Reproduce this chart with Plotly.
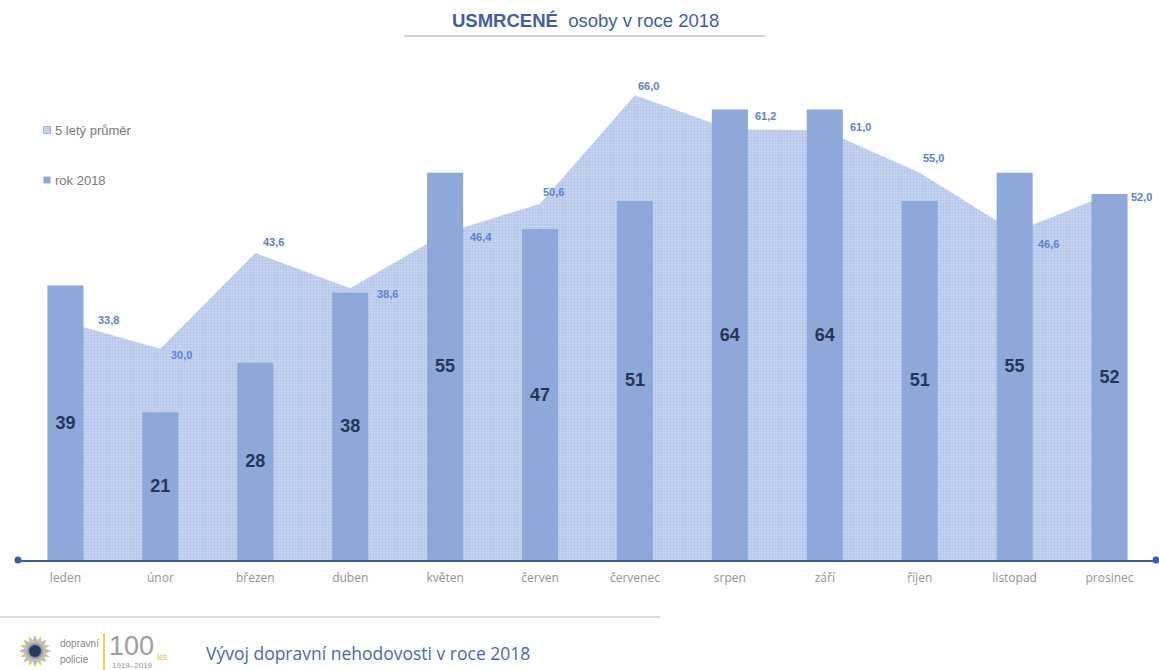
import math
import plotly.graph_objects as go

# ---- data -------------------------------------------------------------
months = ["leden", "únor", "březen", "duben", "květen", "červen",
          "červenec", "srpen", "září", "říjen", "listopad", "prosinec"]
deaths_2018 = [39, 21, 28, 38, 55, 47, 51, 64, 64, 51, 55, 52]
avg_5y = [33.8, 30.0, 43.6, 38.6, 46.4, 50.6, 66.0, 61.2, 61.0, 55.0, 46.6, 52.0]

# ---- layout geometry (pixels) ------------------------------------------
W, H = 1159, 670
ML, MR, MT, MB = 18, 2, 70, 110
PW, PH = W - ML - MR, H - MT - MB
Y_MAX = 69.6


def px(x):
    return (x - ML) / PW


def py(y):
    return (H - MB - y) / PH


# offsets of the average labels from their points (pixels, right / down)
avg_label_dx = [43, 21, 18, 37, 36, 13, 14, 36, 36, 14, 34, 32]
avg_label_dy = [-2, 6, -11, 6, 4, -12, -9, -13, -4, -15, 12, 3]

BAR_COLOR = "#8ea8da"
AREA_BG = "#cad7f1"
AREA_FG = "#9db2e2"
AXIS_COLOR = "#3b5cab"
LABEL_BLUE = "#5b82d6"
TITLE_BLUE = "#3d5eb0"

fig = go.Figure()

# 5-year average as a dotted area (bottom layer)
fig.add_trace(go.Scatter(
    x=months, y=avg_5y, mode="lines", fill="tozeroy",
    line=dict(width=0, color=AREA_FG),
    fillcolor=AREA_BG,
    fillpattern=dict(shape=".", fgcolor=AREA_FG, bgcolor=AREA_BG,
                     size=3, solidity=0.5),
    hoverinfo="skip", showlegend=False,
))

# 2018 monthly bars on an overlaid axis so they sit above the area
fig.add_trace(go.Bar(
    x=months, y=deaths_2018, xaxis="x2", yaxis="y2",
    width=0.38, marker=dict(color=BAR_COLOR, line=dict(width=0)),
    text=deaths_2018, texttemplate="%{text}",
    textposition="inside", insidetextanchor="middle", textangle=0,
    textfont=dict(family="Liberation Sans", size=18, color="#253758",
                  weight="bold"),
    cliponaxis=False, showlegend=False,
))

axis_common = dict(showgrid=False, zeroline=False, fixedrange=True)
fig.update_layout(
    width=W, height=H,
    margin=dict(l=ML, r=MR, t=MT, b=MB),
    paper_bgcolor="white", plot_bgcolor="white",
    xaxis=dict(type="category", range=[-0.5, 11.5], showline=True,
               linecolor=AXIS_COLOR, linewidth=1.5, ticks="",
               tickfont=dict(family="Open Sans", size=12, color="#959595"),
               ticklabelstandoff=6, **axis_common),
    yaxis=dict(range=[0, Y_MAX], visible=False, **axis_common),
    xaxis2=dict(type="category", range=[-0.5, 11.5], overlaying="x",
                visible=False, **axis_common),
    yaxis2=dict(range=[0, Y_MAX], overlaying="y", visible=False,
                **axis_common),
    bargap=0.6,
)

annotations = []
# labels of the average values
for i, (m, v) in enumerate(zip(months, avg_5y)):
    annotations.append(dict(
        x=m, y=v, xref="x", yref="y", yanchor="middle",
        text=f"{v:.1f}".replace(".", ","), showarrow=False,
        xshift=avg_label_dx[i], yshift=-avg_label_dy[i],
        font=dict(family="Liberation Sans", size=11, color=LABEL_BLUE,
                  weight="bold"),
    ))


def note(x, y, text, size, color, family="Liberation Sans", anchor="left",
         weight="normal"):
    return dict(x=px(x), y=py(y), xref="paper", yref="paper",
                showarrow=False, xanchor=anchor, yanchor="middle", text=text,
                font=dict(family=family, size=size, color=color,
                          weight=weight))


# title
annotations.append(note(585, 20, "<b>USMRCENÉ</b>  osoby v roce 2018",
                        18.5, TITLE_BLUE, anchor="center"))

# legend
annotations += [
    note(53, 130, "5 letý průměr", 13, "#7a7a7a"),
    note(53, 180, "rok 2018", 13, "#7a7a7a"),
]

# footer
annotations += [
    note(58, 643, "dopravní", 10, "#8a8a8a"),
    note(58, 659, "policie", 10, "#8a8a8a"),
    note(107, 646, "100", 27, "#a0a0a0"),
    note(155, 657, "let", 9, "#e8c340"),
    note(110, 665, "1919–2019", 8, "#9a9a9a"),
    note(204, 653, "Vývoj dopravní nehodovosti v roce 2018", 17.5,
         "#4a68b8", family="Open Sans"),
]
fig.update_layout(annotations=annotations)


def star_path(r_out, r_in, n, rot=0.0):
    pts = []
    for k in range(2 * n):
        r = r_out if k % 2 == 0 else r_in
        a = rot + math.pi * k / n
        pts.append((r * math.cos(a), r * math.sin(a)))
    return "M " + " L ".join(f"{x:.1f},{y:.1f}" for x, y in pts) + " Z"


def pix_shape(kind, cx, cy, **kw):
    return dict(type=kind, xref="paper", yref="paper", xsizemode="pixel",
                ysizemode="pixel", xanchor=px(cx), yanchor=py(cy), **kw)


shapes = [
    # title underline
    dict(type="line", xref="paper", yref="paper",
         x0=px(404), x1=px(765), y0=py(36), y1=py(36),
         line=dict(color="#b9c5e2", width=1.5)),
    # axis end points
    pix_shape("circle", 18, 560, x0=-3.5, x1=3.5, y0=-3.5, y1=3.5,
              fillcolor=AXIS_COLOR, line=dict(width=0)),
    pix_shape("circle", 1156, 560, x0=-3.5, x1=3.5, y0=-3.5, y1=3.5,
              fillcolor=AXIS_COLOR, line=dict(width=0)),
    # legend swatches
    pix_shape("rect", 47, 130, x0=-3.5, x1=3.5, y0=-3.5, y1=3.5,
              fillcolor="#c3d0ee", line=dict(color="#9fb3e0", width=1)),
    pix_shape("rect", 47, 180, x0=-3.5, x1=3.5, y0=-3.5, y1=3.5,
              fillcolor=BAR_COLOR, line=dict(width=0)),
    # footer rule
    dict(type="line", xref="paper", yref="paper",
         x0=px(0), x1=px(660), y0=py(617), y1=py(617),
         line=dict(color="#cdd2e3", width=1.5)),
    # badge: gold rays, silver star, dark centre
    pix_shape("path", 35, 651, path=star_path(16, 8, 8, math.pi / 8),
              fillcolor="#e6c65a", line=dict(width=0)),
    pix_shape("path", 35, 651, path=star_path(16, 9, 8, 0),
              fillcolor="#b7bcc6", line=dict(width=0)),
    pix_shape("circle", 35, 651, x0=-8, x1=8, y0=-8, y1=8,
              fillcolor="#8f9bb0", line=dict(width=0)),
    pix_shape("circle", 35, 651, x0=-6, x1=6, y0=-6, y1=6,
              fillcolor="#2c3a58", line=dict(width=0)),
    # gold divider of the anniversary mark
    dict(type="line", xref="paper", yref="paper",
         x0=px(104), x1=px(104), y0=py(633), y1=py(670),
         line=dict(color="#edd35a", width=2)),
]
fig.update_layout(shapes=shapes)

fig.write_html("out.html")
